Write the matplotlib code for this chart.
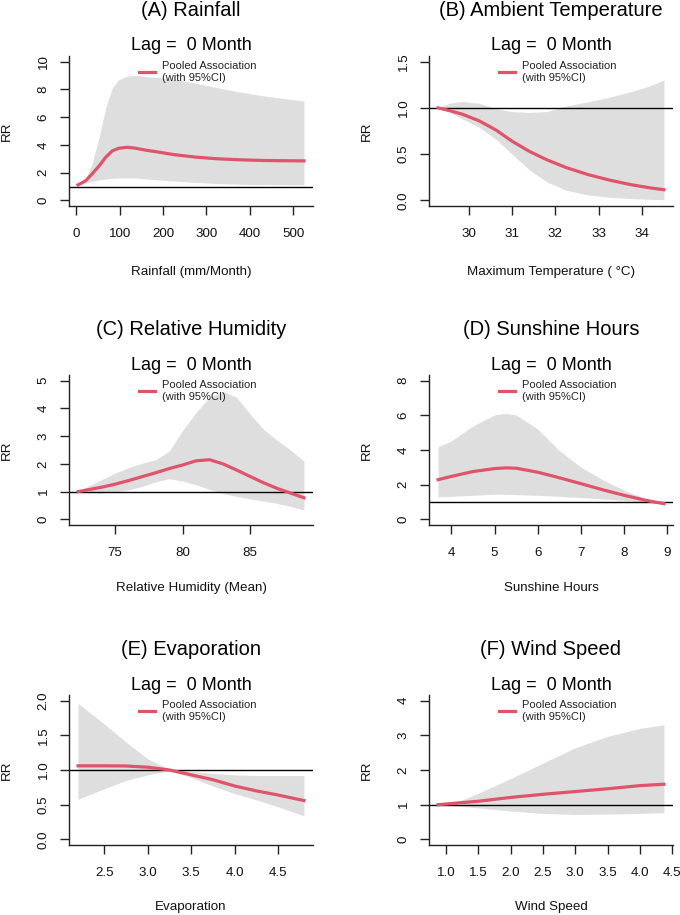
import numpy as np
import matplotlib
matplotlib.use('Agg')
import matplotlib.pyplot as plt

plt.rcParams['font.family'] = ['Liberation Sans', 'DejaVu Sans']

# ---- data (RR with 95% CI) ----
rain_x = [4, 12, 22, 37, 53, 68, 83, 98, 118, 137, 160, 190, 225, 275, 325, 375, 425, 475, 525]
rain_fit = [1.12, 1.25, 1.43, 1.93, 2.5, 3.12, 3.57, 3.76, 3.83, 3.76, 3.62, 3.48, 3.3, 3.12, 3.0, 2.93, 2.88, 2.86, 2.85]
rain_hi = [1.12, 1.3, 1.6, 2.7, 4.6, 6.7, 8.1, 8.7, 8.96, 9.0, 8.92, 8.85, 8.72, 8.45, 8.12, 7.82, 7.56, 7.35, 7.15]
rain_lo = [1.12, 1.18, 1.25, 1.38, 1.48, 1.55, 1.59, 1.62, 1.63, 1.62, 1.55, 1.48, 1.4, 1.3, 1.22, 1.17, 1.14, 1.13, 1.12]

temp_x = [29.29, 29.56, 29.86, 30.24, 30.63, 31.0, 31.4, 31.8, 32.25, 32.75, 33.25, 33.75, 34.2, 34.51]
temp_fit = [1.0, 0.97, 0.93, 0.86, 0.76, 0.64, 0.53, 0.44, 0.355, 0.28, 0.22, 0.17, 0.135, 0.116]
temp_hi = [1.0, 1.05, 1.07, 1.05, 0.99, 0.96, 0.95, 0.96, 1.02, 1.065, 1.115, 1.175, 1.24, 1.30]
temp_lo = [1.0, 0.95, 0.88, 0.79, 0.66, 0.5, 0.33, 0.2, 0.11, 0.06, 0.034, 0.02, 0.012, 0.007]

hum_x = [72.25, 73, 74, 75, 76, 77, 78, 79, 80, 81, 82, 83, 84, 85, 86, 87, 88, 89]
hum_fit = [1.0, 1.07, 1.16, 1.27, 1.4, 1.54, 1.68, 1.83, 1.96, 2.11, 2.15, 2.0, 1.78, 1.55, 1.32, 1.12, 0.95, 0.78]
hum_hi = [1.0, 1.2, 1.43, 1.67, 1.87, 2.02, 2.15, 2.45, 3.2, 3.85, 4.4, 4.6, 4.4, 3.8, 3.25, 2.85, 2.5, 2.1]
hum_lo = [1.0, 0.97, 0.95, 0.99, 1.07, 1.19, 1.35, 1.47, 1.38, 1.25, 1.08, 0.93, 0.83, 0.74, 0.66, 0.58, 0.47, 0.34]

sun_x = [3.69, 4.0, 4.5, 5.0, 5.25, 5.5, 6.0, 6.5, 7.0, 7.5, 8.0, 8.5, 8.92]
sun_fit = [2.29, 2.48, 2.76, 2.93, 2.97, 2.95, 2.72, 2.4, 2.06, 1.71, 1.39, 1.1, 0.91]
sun_hi = [4.19, 4.53, 5.39, 6.02, 6.11, 6.02, 5.2, 3.96, 3.01, 2.29, 1.68, 1.2, 0.95]
sun_lo = [1.3, 1.33, 1.39, 1.45, 1.45, 1.43, 1.39, 1.33, 1.26, 1.18, 1.1, 1.0, 0.86]

evap_x = [2.195, 2.5, 2.75, 3.0, 3.25, 3.5, 3.75, 4.0, 4.25, 4.5, 4.8]
evap_fit = [1.06, 1.06, 1.058, 1.04, 1.0, 0.93, 0.86, 0.77, 0.70, 0.64, 0.56]
evap_hi = [1.96, 1.66, 1.40, 1.16, 1.01, 0.98, 0.95, 0.93, 0.92, 0.92, 0.92]
evap_lo = [0.58, 0.73, 0.85, 0.93, 0.99, 0.89, 0.77, 0.66, 0.57, 0.47, 0.34]

wind_x = [0.88, 1.25, 1.5, 2.0, 2.5, 3.0, 3.5, 4.0, 4.37]
wind_fit = [1.0, 1.06, 1.1, 1.21, 1.3, 1.38, 1.46, 1.55, 1.59]
wind_hi = [1.0, 1.14, 1.33, 1.75, 2.2, 2.64, 2.97, 3.2, 3.3]
wind_lo = [1.0, 0.95, 0.91, 0.82, 0.75, 0.72, 0.73, 0.75, 0.77]

titles = ['(A) Rainfall', '(B) Ambient Temperature', '(C) Relative Humidity',
          '(D) Sunshine Hours', '(E) Evaporation', '(F) Wind Speed']
xlabels = ['Rainfall (mm/Month)', 'Maximum Temperature ( °C)', 'Relative Humidity (Mean)',
           'Sunshine Hours', 'Evaporation', 'Wind Speed']
yticks = [[0, 2, 4, 6, 8, 10], [0, 0.5, 1.0, 1.5], [0, 1, 2, 3, 4, 5],
          [0, 2, 4, 6, 8], [0, 0.5, 1.0, 1.5, 2.0], [0, 1, 2, 3, 4]]
ytick_labels = [None, ['0.0', '0.5', '1.0', '1.5'], None, None,
                ['0.0', '0.5', '1.0', '1.5', '2.0'], None]
xticks = [[0, 100, 200, 300, 400, 500], [30, 31, 32, 33, 34], [75, 80, 85],
          [4, 5, 6, 7, 8, 9], [2.5, 3.0, 3.5, 4.0, 4.5],
          [1.0, 1.5, 2.0, 2.5, 3.0, 3.5, 4.0, 4.5]]
xtick_labels = [None, None, None, None, ['2.5', '3.0', '3.5', '4.0', '4.5'],
                ['1.0', '1.5', '2.0', '2.5', '3.0', '3.5', '4.0', '4.5']]

series = [(rain_x, rain_fit, rain_lo, rain_hi), (temp_x, temp_fit, temp_lo, temp_hi),
          (hum_x, hum_fit, hum_lo, hum_hi), (sun_x, sun_fit, sun_lo, sun_hi),
          (evap_x, evap_fit, evap_lo, evap_hi), (wind_x, wind_fit, wind_lo, wind_hi)]

W, H = 680, 915
fig = plt.figure(figsize=(W / 100, H / 100), dpi=100)

lefts = [69, 429]
tops = [56, 375, 695]
xlab_off = [66, 63, 62]
aw, ah = 244, 150
red = '#DF536B'
dark = '#222222'

for i, (x, fit, lo, hi) in enumerate(series):
    row, col = divmod(i, 2)
    l, t = lefts[col], tops[row]
    ax = fig.add_axes([l / W, 1 - (t + ah) / H, aw / W, ah / H])

    ax.fill_between(x, lo, hi, color='#DEDEDE', lw=0)
    ax.axhline(1, color='black', lw=1.0)
    ax.plot(x, fit, color=red, lw=2.3, label='Pooled Association\n(with 95%CI)')

    # R style limits: 4% padding
    xr = x[-1] - x[0]
    ax.set_xlim(x[0] - 0.04 * xr, x[-1] + 0.04 * xr)
    yt = yticks[i]
    yr = yt[-1] - yt[0]
    ax.set_ylim(yt[0] - 0.04 * yr, yt[-1] + 0.04 * yr)

    ax.set_yticks(yt)
    if ytick_labels[i]:
        ax.set_yticklabels(ytick_labels[i])
    ax.set_xticks(xticks[i])
    if xtick_labels[i]:
        ax.set_xticklabels(xtick_labels[i])

    for s in ['top', 'right']:
        ax.spines[s].set_visible(False)
    for s in ['left', 'bottom']:
        ax.spines[s].set_color(dark)
        ax.spines[s].set_linewidth(1.0)

    ax.tick_params(axis='both', direction='out', length=6.5, width=1.0,
                   color=dark, labelsize=9.6, labelcolor='#111111')
    ax.tick_params(axis='x', pad=9.5)
    ax.tick_params(axis='y', pad=7.5, labelrotation=90)
    for lab in ax.get_yticklabels():
        lab.set_va('center')

    ax.set_xlabel(xlabels[i], fontsize=9.6, color='#111111', va='center')
    ax.xaxis.set_label_coords(0.5, -xlab_off[row] / ah)
    ax.set_ylabel('RR', fontsize=9.6, color='#111111', va='center')
    ax.yaxis.set_label_coords(-62 / aw, 0.5)

    ax.text(0.5, 1 + 45.5 / ah, titles[i], transform=ax.transAxes,
            ha='center', va='center', fontsize=14.5)
    ax.text(0.5, 1 + 10 / ah, 'Lag =  0 Month', transform=ax.transAxes,
            ha='center', va='center', fontsize=13)

    ax.legend(loc='upper left', bbox_to_anchor=(0.287, 0.965), frameon=False,
              fontsize=8, handlelength=1.4, handletextpad=0.7,
              borderpad=0, borderaxespad=0, labelcolor='#222222')

fig.savefig('out.png', dpi=100)
